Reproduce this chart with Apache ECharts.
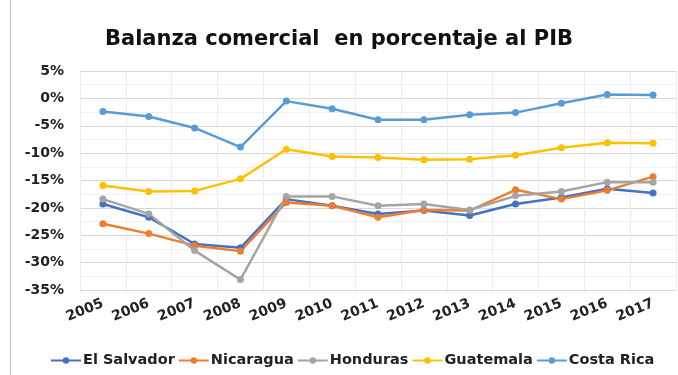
<!DOCTYPE html>
<html><head><meta charset="utf-8">
<script src="https://cdn.jsdelivr.net/npm/echarts@6/dist/echarts.min.js"></script>
<style>html,body{margin:0;padding:0;background:#fff}#c{width:678px;height:375px}</style>
</head><body><div id="c"></div>
<script>
var years = ['2005','2006','2007','2008','2009','2010','2011','2012','2013','2014','2015','2016','2017'];
var elSalvador = [-19.3,-21.7,-26.6,-27.3,-18.4,-19.6,-21.1,-20.5,-21.4,-19.3,-18.1,-16.5,-17.3];
var nicaragua  = [-22.9,-24.7,-26.9,-27.9,-19.0,-19.6,-21.7,-20.4,-20.5,-16.7,-18.4,-16.8,-14.3];
var honduras   = [-18.4,-21.1,-27.8,-33.1,-17.9,-17.9,-19.6,-19.3,-20.4,-17.8,-17.0,-15.3,-15.3];
var guatemala  = [-15.9,-17.0,-16.9,-14.7,-9.3,-10.6,-10.8,-11.2,-11.1,-10.4,-9.0,-8.1,-8.2];
var costaRica  = [-2.4,-3.3,-5.4,-8.9,-0.5,-1.9,-3.9,-3.9,-3.0,-2.6,-0.9,0.7,0.6];
var seriesNames = ['El Salvador','Nicaragua','Honduras','Guatemala','Costa Rica'];
var seriesData = [elSalvador, nicaragua, honduras, guatemala, costaRica];
var colors = ['#4472C4','#ED7D31','#A5A5A5','#FFC000','#5B9BD5'];

var chart = echarts.init(document.getElementById('c'));
var font = 'DejaVu Sans';
chart.setOption({
  animation: false,
  color: colors,
  title: {
    text: 'Balanza comercial  en porcentaje al PIB',
    left: 'center', top: 24,
    textStyle: {fontFamily: font, fontSize: 21, fontWeight: 'bold', color: '#111'}
  },
  graphic: [{type:'line', shape:{x1:10.5,y1:0,x2:10.5,y2:375}, style:{stroke:'#bbb',lineWidth:1}}],
  legend: {
    top: 348, left: 45, itemGap: 3, itemWidth: 30, itemHeight: 8,
    textStyle: {fontFamily: font, fontSize: 14.5, fontWeight: 'bold', color: '#222', padding:[0,0,0,-3]},
    data: seriesNames
  },
  grid: {left: 80, right: 2, top: 71, height: 219},
  xAxis: {
    type: 'category', data: years, boundaryGap: true,
    axisLine: {show: false}, axisTick: {show: false},
    axisLabel: {fontFamily: font, fontSize: 14, fontWeight: 'bold', color: '#222', rotate: 22, margin: 13, interval: 0},
    splitLine: {show: true, lineStyle: {color: '#ececec'}}
  },
  yAxis: {
    type: 'value', min: -35, max: 5, interval: 5,
    axisLine: {show: false}, axisTick: {show: false},
    axisLabel: {fontFamily: font, fontSize: 14, fontWeight: 'bold', color: '#222', formatter: '{value}%', margin: 16},
    splitLine: {lineStyle: {color: '#d9d9d9'}},
    minorTick: {show: false, splitNumber: 2},
    minorSplitLine: {show: true, lineStyle: {color: '#f0f0f0'}}
  },
  series: seriesNames.map(function(n, i){
    return {
      name: n, type: 'line', data: seriesData[i],
      symbol: 'circle', symbolSize: 7,
      lineStyle: {width: 2.5}, itemStyle: {color: colors[i]}
    };
  })
});
</script></body></html>
